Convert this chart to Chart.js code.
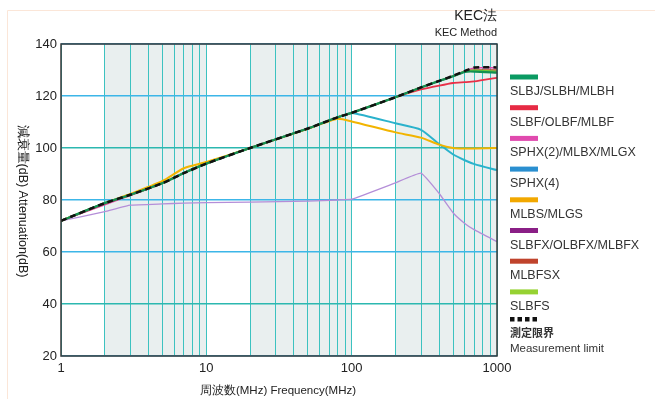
<!DOCTYPE html>
<html>
<head>
<meta charset="utf-8">
<script src="https://cdn.jsdelivr.net/npm/chart.js@4.4.1/dist/chart.umd.min.js"></script>
<style>
  html, body { margin: 0; padding: 0; background: #fff; }
  #wrap { width: 655px; height: 399px; position: relative; }
</style>
</head>
<body>
<div id="wrap"><canvas id="chart" width="655" height="399"></canvas></div>
<script>
// 周波数 (MHz)
const freqs = [1, 2, 3, 5, 7, 10, 20, 50, 80, 100, 200, 300, 400, 500, 600, 700, 1000];

// 減衰量 (dB)
const limitDb  = [72, 78.8, 82, 86.5, 90.3, 94, 100, 107.5, 111.8, 113.5, 119.5, 123.3, 125.8, 127.8, 129.6, 131, 131];
const slbjDb   = [72, 78.8, 82, 86.5, 90.4, 94, 100, 107.5, 111.8, 113.5, 119.5, 123.3, 125.8, 127.6, 129.3, 129.4, 129];
const slbfDb   = [72, 78.6, 82, 86.5, 90.4, 94, 100, 107.5, 111.8, 113.5, 119.5, 122.5, 124, 125, 125.3, 125.6, 127];
const sphx2Db  = [72, 78.2, 81.7, 86.4, 90.4, 94, 100, 107.5, 111.8, 113.5, 119.5, 123.3, 125.8, 127.8, 129.6, 130.8, 130.8];
const sphx4Db  = [72, 78.8, 82, 86.5, 90.4, 94, 100, 107.5, 111.8, 113.5, 109.5, 107, 101.5, 97.5, 95.3, 93.8, 91.5];
const mlbsDb   = [72, 78.8, 82.3, 87.3, 92.2, 94.6, 100, 107.4, 111.2, 110.2, 106, 104, 101.3, 100, 99.8, 99.8, 100];
const slbfxDb  = [72, 75.5, 78, 78.5, 78.8, 79, 79.2, 79.6, 80, 80.3, 86.6, 90.3, 82.5, 75, 71, 68.5, 64];
const mlbfsxDb = [72, 78.8, 82, 86.5, 90.4, 94, 100, 107.5, 111.8, 113.5, 119.5, 123.3, 125.8, 127.6, 129.3, 130, 130];
const slbfsDb  = [72, 78.8, 82, 86.5, 90.4, 94, 100, 107.5, 111.8, 113.5, 119.5, 123.3, 125.8, 127.7, 129.5, 129.8, 129.5];

const xTickLabels = [1, 10, 100, 1000];
const yTicks = [20, 40, 60, 80, 100, 120, 140];

const legendLabels = ["SLBJ/SLBH/MLBH", "SLBF/OLBF/MLBF", "SPHX(2)/MLBX/MLGX", "SPHX(4)",
                      "MLBS/MLGS", "SLBFX/OLBFX/MLBFX", "MLBFSX", "SLBFS"];
const legendColors = ["#0a9a62", "#e62a44", "#e04aae", "#2a8fd0", "#f2a800", "#8a1f86", "#c0432c", "#96d232"];

function toPoints(aDb) {
  return freqs.map((f, i) => ({ x: f, y: aDb[i] }));
}

const FONT = "'Liberation Sans', Arial, sans-serif";

// 背景の帯・枠・凡例・タイトル
const decorPlugin = {
  id: "decor",
  beforeDraw(chart) {
    const ctx = chart.ctx;
    const a = chart.chartArea;
    const xs = chart.scales.x;
    ctx.save();
    ctx.fillStyle = "#fff";
    ctx.fillRect(0, 0, chart.width, chart.height);
    // 薄い外枠
    ctx.strokeStyle = "#fbe6d8";
    ctx.lineWidth = 1;
    ctx.beginPath();
    ctx.moveTo(7.5, chart.height);
    ctx.lineTo(7.5, 10.5);
    ctx.lineTo(chart.width, 10.5);
    ctx.stroke();
    // 帯 2〜10
    ctx.fillStyle = "#e9efef";
    [1, 10, 100].forEach(d => {
      const x1 = xs.getPixelForValue(2 * d);
      const x2 = xs.getPixelForValue(10 * d);
      ctx.fillRect(x1, a.top, x2 - x1, a.bottom - a.top);
    });
    ctx.restore();
  },
  afterDraw(chart) {
    const ctx = chart.ctx;
    const a = chart.chartArea;
    ctx.save();
    // 枠
    ctx.strokeStyle = "#3a3a3a";
    ctx.lineWidth = 1.5;
    ctx.strokeRect(a.left, a.top, a.right - a.left, a.bottom - a.top);

    // タイトル
    ctx.fillStyle = "#222";
    ctx.textAlign = "right";
    ctx.textBaseline = "alphabetic";
    ctx.font = "14px " + FONT;
    ctx.fillText("KEC法", a.right, 20);
    ctx.font = "11px " + FONT;
    ctx.fillText("KEC Method", a.right, 36);

    // 軸タイトル
    ctx.font = "11.5px " + FONT;
    ctx.textAlign = "center";
    ctx.textBaseline = "middle";
    ctx.fillText("周波数(MHz) Frequency(MHz)", 278, 391);
    ctx.save();
    ctx.translate(22, 201);
    ctx.rotate(Math.PI / 2);
    ctx.font = "12.5px " + FONT;
    ctx.fillText("減衰量(dB) Attenuation(dB)", 0, 0);
    ctx.restore();

    // 凡例
    const lx = 510;
    ctx.textAlign = "left";
    ctx.textBaseline = "alphabetic";
    legendLabels.forEach((sLabel, i) => {
      const yBar = 77 + i * 30.7;
      ctx.fillStyle = legendColors[i];
      ctx.fillRect(lx, yBar - 2.5, 28, 5);
      ctx.fillStyle = "#333";
      ctx.font = "12.5px " + FONT;
      ctx.fillText(sLabel, lx, yBar + 18);
    });
    ctx.fillStyle = "#111";
    for (let k = 0; k < 4; k++) {
      ctx.fillRect(lx + k * 7.5, 317, 4.5, 4.5);
    }
    ctx.fillStyle = "#333";
    ctx.font = "bold 11px 'Noto Sans CJK JP', sans-serif";
    ctx.fillText("測定限界", lx, 337);
    ctx.font = "11.5px " + FONT;
    ctx.fillText("Measurement limit", lx, 352);
    ctx.restore();
  }
};

function lineSet(sLabel, aDb, sColor, iWidth, iOrder) {
  return {
    label: sLabel,
    data: toPoints(aDb),
    borderColor: sColor,
    backgroundColor: sColor,
    borderWidth: iWidth,
    pointRadius: 0,
    tension: 0.2,
    fill: false,
    order: iOrder
  };
}

const ctx = document.getElementById("chart").getContext("2d");
new Chart(ctx, {
  type: "line",
  data: {
    datasets: [
      Object.assign(lineSet("測定限界", limitDb, "#111", 2.5, 0), { borderDash: [6, 4] }),
      lineSet("SLBJ/SLBH/MLBH", slbjDb, "#128f52", 2.2, 1),
      lineSet("SLBFS", slbfsDb, "#6cc83a", 1.8, 2),
      lineSet("SLBF/OLBF/MLBF", slbfDb, "#e83048", 1.8, 3),
      lineSet("MLBS/MLGS", mlbsDb, "#f2b400", 2, 4),
      lineSet("SPHX(4)", sphx4Db, "#2ab2cc", 2, 5),
      Object.assign(lineSet("SLBFX/OLBFX/MLBFX", slbfxDb, "#b48ed8", 1.3, 6), { tension: 0.1 }),
      lineSet("MLBFSX", mlbfsxDb, "#c0432c", 1.5, 7),
      lineSet("SPHX(2)/MLBX/MLGX", sphx2Db, "#e04aae", 1.5, 8)
    ]
  },
  options: {
    responsive: false,
    animation: false,
    layout: { padding: { left: 0, top: 44, right: 158, bottom: 0 } },
    plugins: {
      legend: { display: false },
      tooltip: { enabled: false },
      title: { display: false }
    },
    scales: {
      x: {
        type: "logarithmic",
        min: 1,
        max: 1000,
        afterBuildTicks(scale) {
          const aTicks = [];
          [1, 10, 100].forEach(d => {
            for (let m = 1; m <= 9; m++) aTicks.push({ value: m * d });
          });
          aTicks.push({ value: 1000 });
          scale.ticks = aTicks;
        },
        afterFit(scale) { scale.height = 43; },
        border: { display: false },
        grid: {
          color: "#3cc2c0",
          lineWidth: 1,
          drawTicks: false
        },
        ticks: {
          autoSkip: false,
          maxRotation: 0,
          padding: 5,
          color: "#222",
          font: { size: 13, family: FONT },
          callback: (value) => xTickLabels.includes(value) ? String(value) : ""
        }
      },
      y: {
        type: "linear",
        min: 20,
        max: 140,
        afterBuildTicks(scale) {
          scale.ticks = yTicks.map(v => ({ value: v }));
        },
        afterFit(scale) { scale.width = 61; },
        border: { display: false },
        grid: {
          color: (c) => (c.tick && (c.tick.value === 100 || c.tick.value === 40)) ? "#2cb8b0" : "#3cb6e8",
          lineWidth: 1.6,
          drawTicks: false
        },
        ticks: {
          padding: 4,
          color: "#222",
          font: { size: 13, family: FONT }
        }
      }
    }
  },
  plugins: [decorPlugin]
});
</script>
</body>
</html>
